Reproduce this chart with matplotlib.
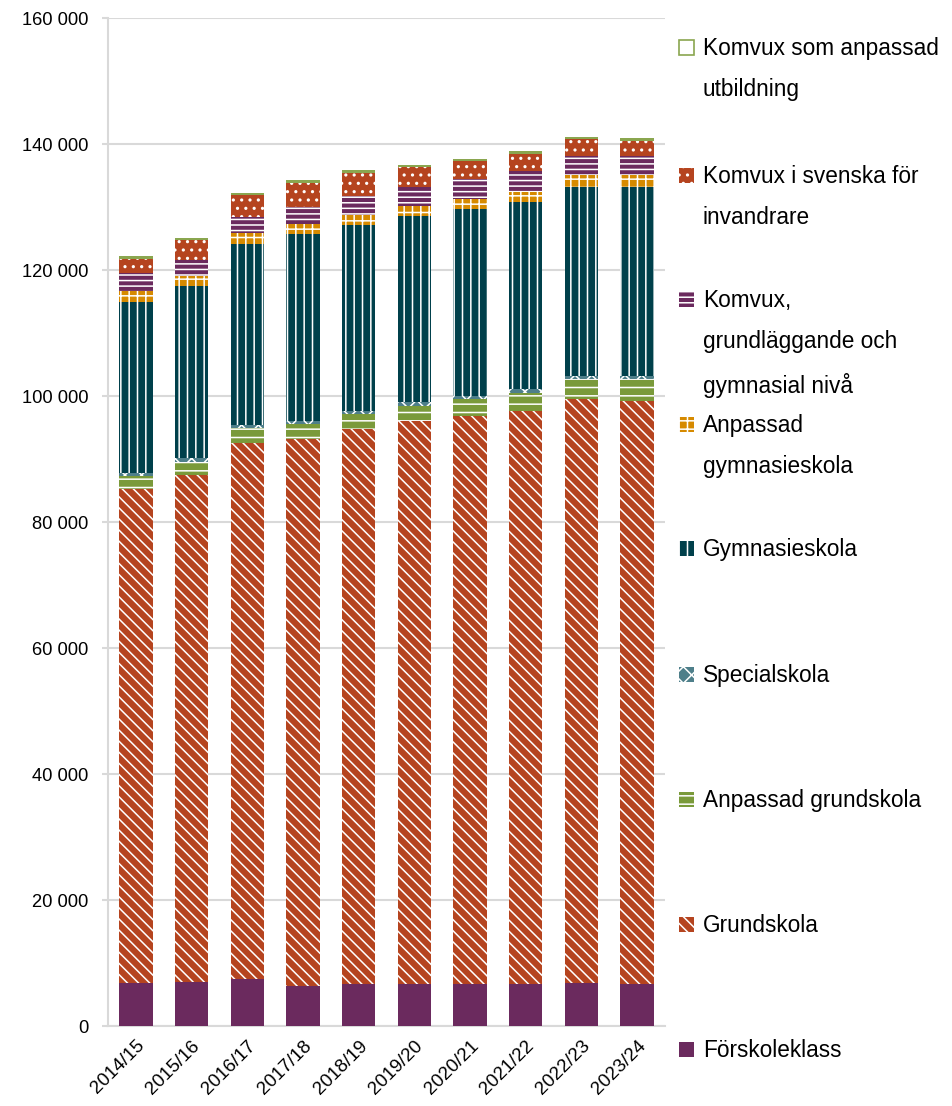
"""
Stacked bar chart: staff per school form, 2014/15 - 2023/24.
"""
import matplotlib
matplotlib.use('Agg')
import matplotlib.pyplot as plt
from matplotlib.patches import Rectangle
from matplotlib.ticker import FuncFormatter
import numpy as np

years = ['2014/15', '2015/16', '2016/17', '2017/18', '2018/19',
         '2019/20', '2020/21', '2021/22', '2022/23', '2023/24']

forskoleklass = [6800, 7000, 7400, 6400, 6600, 6700, 6700, 6700, 6900, 6700]
grundskola = [78370, 80440, 85180, 86710, 88090, 89340, 90180, 90900, 92550, 92540]
anpassad_grundskola = [2060, 2160, 2290, 2380, 2390, 2410, 2570, 2950, 3200, 3410]
specialskola = [480, 490, 510, 520, 520, 530, 530, 540, 550, 550]
gymnasieskola = [27240, 27400, 28830, 29680, 29610, 29620, 29630, 29630, 29990, 29950]
anpassad_gymnasieskola = [1700, 1590, 1590, 1580, 1600, 1570, 1640, 1680, 1860, 1860]
komvux_grund = [2800, 2590, 2640, 2750, 2910, 2970, 3120, 3280, 3070, 3020]
komvux_sfi = [2350, 3060, 3500, 3870, 3760, 3280, 2960, 2810, 2700, 2480]
komvux_anpassad = [400, 370, 360, 370, 370, 320, 370, 370, 370, 370]

# bottom to top: label, values, colour, hatch
series = [
    ('Förskoleklass', forskoleklass, '#6b2a5e', None),
    ('Grundskola', grundskola, '#b5441f', '\\\\\\'),
    ('Anpassad grundskola', anpassad_grundskola, '#7a9a3a', '--'),
    ('Specialskola', specialskola, '#4e7f8a', 'xx'),
    ('Gymnasieskola', gymnasieskola, '#00404b', '||'),
    ('Anpassad\ngymnasieskola', anpassad_gymnasieskola, '#d68a00', '++'),
    ('Komvux,\ngrundläggande och\ngymnasial nivå', komvux_grund, '#6b2a5e', '---'),
    ('Komvux i svenska för\ninvandrare', komvux_sfi, '#b5441f', '..'),
    ('Komvux som anpassad\nutbildning', komvux_anpassad, '#8aa64f', None),
]

plt.rcParams['font.family'] = ['Liberation Sans', 'DejaVu Sans']
plt.rcParams['hatch.linewidth'] = 1.1

fig = plt.figure(figsize=(9.52, 11.06), dpi=100)
ax = fig.add_axes([0.1134, 0.0723, 0.5851, 0.9114])

x = np.arange(len(years))
bottom = np.zeros(len(years))
for label, values, colour, hatch in series:
    if hatch:
        ax.bar(x, values, bottom=bottom, width=0.6, color=colour,
               hatch=hatch, edgecolor='white', linewidth=0, zorder=3)
    else:
        ax.bar(x, values, bottom=bottom, width=0.6, color=colour,
               linewidth=0, zorder=3)
    bottom += np.array(values)

ax.set_xlim(-0.5, len(years) - 0.5)
ax.set_ylim(0, 160000)
ax.set_yticks(np.arange(0, 160001, 20000))
ax.yaxis.set_major_formatter(
    FuncFormatter(lambda v, _: f'{int(v):,}'.replace(',', ' ')))
ax.grid(axis='y', color='#d9d9d9', linewidth=1.5, zorder=0)

for side in ['top', 'right']:
    ax.spines[side].set_visible(False)
for side in ['left', 'bottom']:
    ax.spines[side].set_color('#d9d9d9')
    ax.spines[side].set_linewidth(1.5)

ax.tick_params(axis='y', length=4.3, width=1.5, color='#d9d9d9',
               labelsize=13.2, pad=10)
ax.tick_params(axis='x', length=0, labelsize=13.6, pad=8)
ax.set_xticks(x)
ax.set_xticklabels(years, rotation=45, ha='right', rotation_mode='anchor')

# legend drawn by hand so the patch sits level with the first text line
legend_y = [48, 176, 300, 425, 549, 675, 800, 925, 1050]
for (label, values, colour, hatch), ypix in zip(series[::-1], legend_y):
    yf = 1 - ypix / 1106
    if label.startswith('Komvux som'):
        patch = Rectangle((679 / 952, yf - 7 / 1106), 15 / 952, 15 / 1106,
                          transform=fig.transFigure, facecolor='white',
                          edgecolor=colour, linewidth=1.2)
    elif hatch:
        patch = Rectangle((679 / 952, yf - 7 / 1106), 15 / 952, 15 / 1106,
                          transform=fig.transFigure, facecolor=colour,
                          hatch=hatch, edgecolor='white', linewidth=0)
    else:
        patch = Rectangle((679 / 952, yf - 7 / 1106), 15 / 952, 15 / 1106,
                          transform=fig.transFigure, facecolor=colour,
                          linewidth=0)
    fig.patches.append(patch)
    fig.text(703 / 952, yf + 11 / 1106, label, fontsize=16.3, va='top',
             ha='left', linespacing=2.0)

fig.savefig('out.png', dpi=100)
